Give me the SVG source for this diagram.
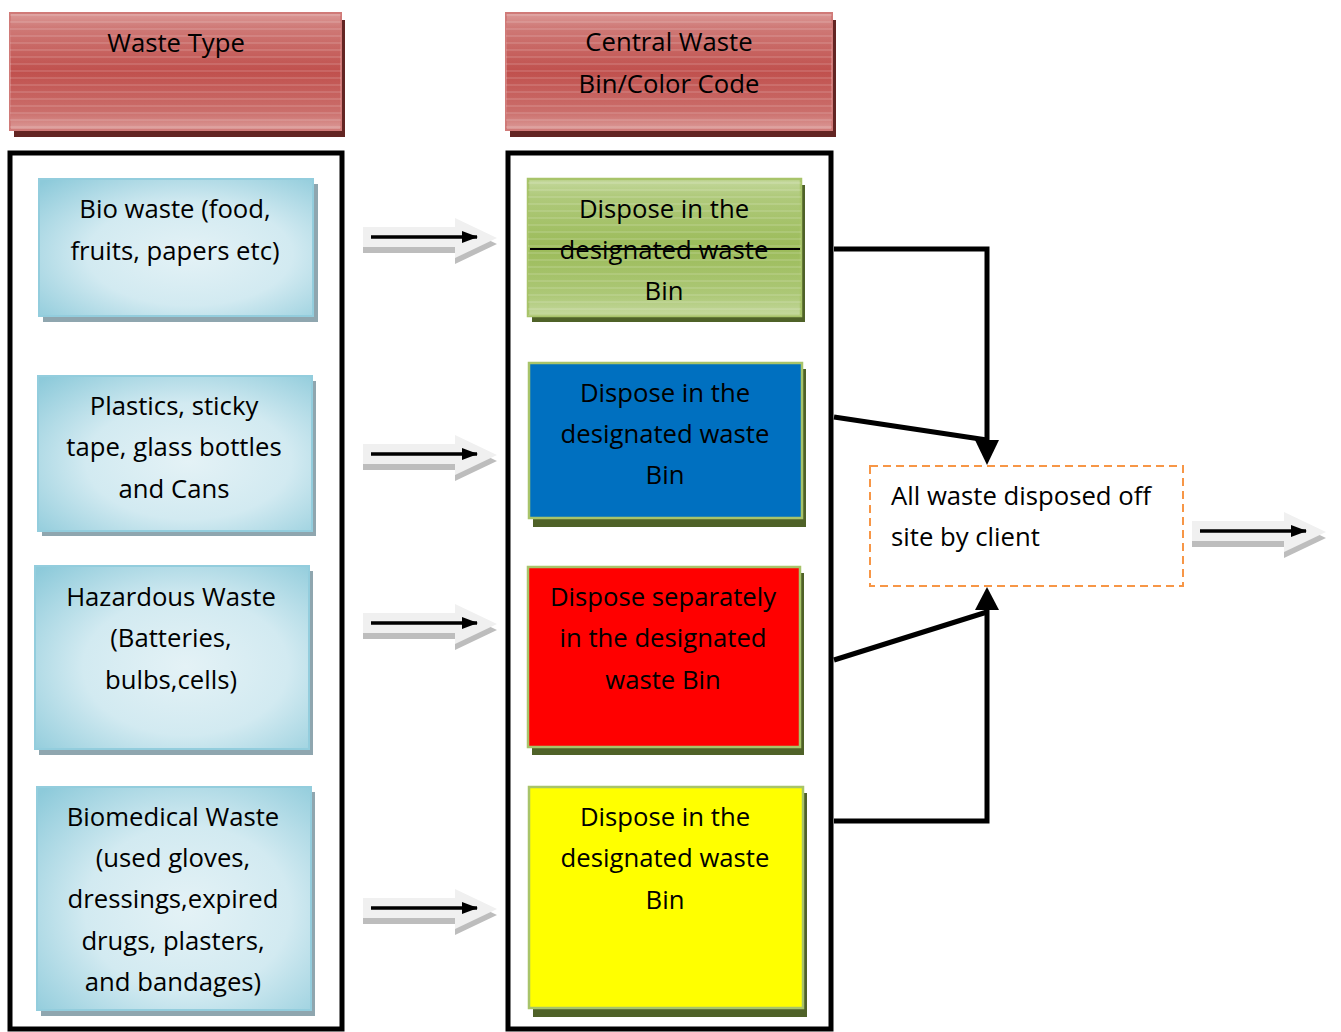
<svg xmlns="http://www.w3.org/2000/svg" width="1341" height="1032" viewBox="0 0 1341 1032">
<style>
  text { font-family: "Open Sans", "Liberation Sans", sans-serif; font-size: 25.7px; fill: #000; text-anchor: middle; }
  .lbox { fill: url(#blueGrad); stroke: #93CDDD; stroke-width: 2; }
  .lshadow { fill: #8FA6AF; }
  .hdr { fill: url(#redGrad); stroke: #D07A78; stroke-width: 2; }
  .hdrshadow { fill: #632523; }
  .mbox { stroke: #A8C46A; stroke-width: 2.5; }
  .mshadow { fill: #4F6228; }
  .container { fill: none; stroke: #000; stroke-width: 5; }
  .conn { fill: none; stroke: #000; stroke-width: 5; }
  .thin { stroke: #000; stroke-width: 3.5; fill: none; }
  .blk { fill: #F0F0F0; }
  .blkshadow { fill: #BDBDBD; }
</style>
<defs>
  <linearGradient id="redGrad" x1="0" y1="0" x2="0" y2="1">
    <stop offset="0" stop-color="#DC9B99"/>
    <stop offset="0.12" stop-color="#CF7A77"/>
    <stop offset="0.5" stop-color="#C0504D"/>
    <stop offset="0.85" stop-color="#CB6F6C"/>
    <stop offset="1" stop-color="#DC9B99"/>
  </linearGradient>
  <linearGradient id="greenGrad" x1="0" y1="0" x2="0" y2="1">
    <stop offset="0" stop-color="#C5D99E"/>
    <stop offset="0.12" stop-color="#B0CA7C"/>
    <stop offset="0.5" stop-color="#9BBB59"/>
    <stop offset="0.85" stop-color="#ADC877"/>
    <stop offset="1" stop-color="#C5D99E"/>
  </linearGradient>
  <radialGradient id="blueGrad" cx="0.55" cy="0.55" r="0.75">
    <stop offset="0" stop-color="#E4F2F6"/>
    <stop offset="0.5" stop-color="#D2EAF1"/>
    <stop offset="1" stop-color="#8DCADA"/>
  </radialGradient>
  <pattern id="stripes" width="8" height="7" patternUnits="userSpaceOnUse">
    <rect x="0" y="0" width="8" height="2" fill="#FFFFFF" fill-opacity="0.12"/>
  </pattern>
  <marker id="thinHead" markerWidth="16" markerHeight="12" refX="15" refY="6" orient="auto" markerUnits="userSpaceOnUse">
    <path d="M0,0 L16,6 L0,12 Z" fill="#000"/>
  </marker>
  <g id="blockArrow">
    <polygon class="blkshadow" points="0,-4 92,-4 92,-13 134,7 92,27 92,16 0,16"/>
    <polygon class="blk" points="0,-10 92,-10 92,-19 134,1 92,21 92,10 0,10"/>
    <line class="thin" x1="8" y1="0" x2="114" y2="0" marker-end="url(#thinHead)"/>
  </g>
</defs>

<rect width="1341" height="1032" fill="#FFFFFF"/>

<!-- Headers -->
<g id="header-waste-type">
  <rect class="hdrshadow" x="14" y="20" width="331" height="117"/>
  <rect class="hdr" x="10" y="13" width="331" height="117"/>
  <rect x="10" y="13" width="331" height="117" fill="url(#stripes)"/>
  <text x="176" y="52">Waste Type</text>
</g>
<g id="header-central-bin">
  <rect class="hdrshadow" x="510" y="20" width="326" height="117"/>
  <rect class="hdr" x="506" y="13" width="326" height="117"/>
  <rect x="506" y="13" width="326" height="117" fill="url(#stripes)"/>
  <text x="669" y="51">Central Waste</text>
  <text x="669" y="93">Bin/Color Code</text>
</g>

<!-- Containers -->
<g id="container-left">
  <rect class="container" x="10" y="153" width="332" height="876"/>
</g>
<g id="container-middle">
  <rect class="container" x="508" y="153" width="323" height="876"/>
</g>

<!-- Left boxes -->
<g id="bio-waste">
  <rect class="lshadow" x="43" y="184" width="275" height="138"/>
  <rect class="lbox" x="39" y="179" width="274" height="137"/>
  <text x="175" y="218">Bio waste (food,</text>
  <text x="175" y="260">fruits, papers etc)</text>
</g>
<g id="plastics">
  <rect class="lshadow" x="42" y="381" width="274" height="155"/>
  <rect class="lbox" x="38" y="376" width="274" height="155"/>
  <text x="174" y="415">Plastics, sticky</text>
  <text x="174" y="456">tape, glass bottles</text>
  <text x="174" y="498">and Cans</text>
</g>
<g id="hazardous">
  <rect class="lshadow" x="39" y="571" width="274" height="184"/>
  <rect class="lbox" x="35" y="566" width="274" height="183"/>
  <text x="171" y="606">Hazardous Waste</text>
  <text x="171" y="647">(Batteries,</text>
  <text x="171" y="689">bulbs,cells)</text>
</g>
<g id="biomedical">
  <rect class="lshadow" x="41" y="792" width="274" height="224"/>
  <rect class="lbox" x="37" y="787" width="274" height="223"/>
  <text x="173" y="826">Biomedical Waste</text>
  <text x="173" y="867">(used gloves,</text>
  <text x="173" y="908">dressings,expired</text>
  <text x="173" y="950">drugs, plasters,</text>
  <text x="173" y="991">and bandages)</text>
</g>

<!-- Middle boxes -->
<g id="bin-green">
  <rect class="mshadow" x="532" y="185" width="273" height="137"/>
  <rect class="mbox" x="528" y="179" width="273" height="137" fill="url(#greenGrad)"/>
  <rect x="528" y="179" width="273" height="137" fill="url(#stripes)"/>
  <text x="664" y="218">Dispose in the</text>
  <text x="664" y="259">designated waste</text>
  <text x="664" y="300">Bin</text>
  <line x1="530" y1="249" x2="800" y2="249" stroke="#000" stroke-width="2"/>
</g>
<g id="bin-blue">
  <rect class="mshadow" x="533" y="369" width="273" height="158"/>
  <rect class="mbox" x="529" y="363" width="273" height="155" fill="#0070C0"/>
  <text x="665" y="402">Dispose in the</text>
  <text x="665" y="443">designated waste</text>
  <text x="665" y="484">Bin</text>
</g>
<g id="bin-red">
  <rect class="mshadow" x="532" y="573" width="272" height="182"/>
  <rect class="mbox" x="528" y="567" width="272" height="180" fill="#FF0000"/>
  <text x="663" y="606">Dispose separately</text>
  <text x="663" y="647">in the designated</text>
  <text x="663" y="689">waste Bin</text>
</g>
<g id="bin-yellow">
  <rect class="mshadow" x="533" y="793" width="274" height="224"/>
  <rect class="mbox" x="529" y="787" width="274" height="221" fill="#FFFF00"/>
  <text x="665" y="826">Dispose in the</text>
  <text x="665" y="867">designated waste</text>
  <text x="665" y="909">Bin</text>
</g>

<!-- Final node -->
<g id="offsite">
  <rect x="870" y="466" width="313" height="120" fill="#FFFFFF" stroke="#F79646" stroke-width="2" stroke-dasharray="8,5"/>
  <text x="891" y="505" style="text-anchor:start">All waste disposed off</text>
  <text x="891" y="546" style="text-anchor:start">site by client</text>
</g>

<!-- Connectors -->
<g id="connectors">
  <use href="#blockArrow" x="363" y="237"/>
  <use href="#blockArrow" x="363" y="454"/>
  <use href="#blockArrow" x="363" y="623"/>
  <use href="#blockArrow" x="363" y="908"/>
  <use href="#blockArrow" x="1192" y="531"/>

  <polyline class="conn" points="834,249 987,249 987,442"/>
  <line class="conn" x1="834" y1="417" x2="987" y2="440"/>
  <polygon points="975,440 999,440 987,465" fill="#000"/>

  <polyline class="conn" points="834,821 987,821 987,608"/>
  <line class="conn" x1="834" y1="660" x2="987" y2="612"/>
  <polygon points="975,610 999,610 987,587" fill="#000"/>
</g>
</svg>
